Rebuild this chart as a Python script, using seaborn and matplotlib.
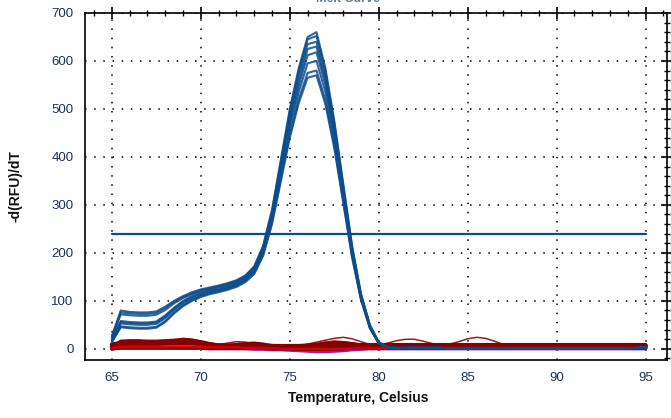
import pandas as pd
import matplotlib
matplotlib.use("Agg")
import matplotlib.pyplot as plt
from matplotlib.ticker import MultipleLocator
import seaborn as sns

# Temperature steps of the melt (0.5 C)
temps = [65 + 0.5 * i for i in range(61)]

# Positive wells (65.0 .. 81.0), tail shared for 81.5 .. 95.0
blue_tail = [2, 2, 2, 2, 2, 1, 1, 1, 1, 1, 1, 1, 1, 1, 1, 1, 1, 1, 1, 1,
             1, 1, 1, 1, 1, 1, 2, 3]
pos_1 = [27, 80, 77, 76, 76, 78, 88, 100, 110, 118, 124, 128, 132, 137, 143, 153, 172, 215, 290, 395,
         500, 585, 650, 660, 585, 475, 345, 215, 115, 50, 14, 4, 2]
pos_2 = [25, 76, 74, 73, 73, 75, 85, 98, 108, 116, 122, 126, 130, 135, 141, 151, 170, 212, 286, 390,
         494, 578, 645, 652, 578, 470, 340, 212, 113, 49, 13, 4, 2]
pos_3 = [23, 72, 70, 69, 69, 71, 81, 95, 106, 114, 120, 125, 129, 134, 140, 150, 168, 210, 283, 385,
         487, 570, 635, 640, 568, 462, 335, 208, 111, 48, 13, 4, 2]
pos_4 = [20, 58, 56, 55, 55, 57, 70, 86, 100, 110, 117, 122, 126, 131, 137, 147, 165, 206, 278, 378,
         478, 558, 625, 630, 560, 455, 330, 205, 110, 47, 12, 3, 2]
pos_5 = [19, 56, 54, 53, 53, 55, 67, 84, 98, 108, 115, 120, 124, 129, 135, 145, 163, 203, 274, 372,
         470, 548, 612, 618, 550, 448, 325, 202, 108, 46, 12, 3, 2]
pos_6 = [17, 53, 51, 50, 50, 52, 64, 81, 95, 105, 112, 118, 122, 127, 133, 143, 160, 200, 270, 365,
         460, 535, 595, 600, 535, 437, 318, 198, 106, 45, 12, 3, 1]
pos_7 = [15, 47, 45, 44, 44, 46, 58, 76, 91, 102, 110, 116, 120, 125, 131, 141, 158, 196, 264, 355,
         447, 520, 575, 580, 518, 425, 310, 194, 104, 44, 11, 3, 1]
pos_8 = [14, 45, 43, 42, 42, 44, 56, 74, 89, 100, 108, 114, 118, 123, 129, 139, 156, 194, 260, 350,
         440, 512, 565, 570, 510, 418, 305, 190, 102, 43, 11, 3, 1]

# Negative wells with small bumps (thin lines), 65.0 .. 95.0
neg_1 = [12, 14, 14, 14, 13, 14, 16, 19, 22, 20, 16, 12, 9, 8, 8, 7, 6, 5, 5, 4,
         4, 6, 10, 14, 18, 22, 24, 21, 15, 9, 5, 4, 3, 3, 3, 3, 3, 3, 3, 3,
         3, 3, 3, 3, 3, 3, 3, 3, 3, 3, 3, 3, 3, 3, 3, 3, 3, 3, 3, 3, 3]
neg_2 = [8, 10, 10, 10, 10, 10, 11, 12, 13, 12, 10, 8, 9, 12, 15, 14, 10, 7, 5, 4,
         4, 5, 7, 10, 14, 16, 14, 12, 10, 9, 8, 12, 17, 20, 20, 16, 11, 8, 10, 15,
         21, 24, 22, 16, 9, 5, 4, 4, 4, 4, 4, 4, 4, 4, 4, 4, 4, 4, 4, 4, 4]
neg_3 = [5, 8, 8, 8, 8, 8, 9, 11, 14, 15, 13, 10, 8, 7, 7, 6, 5, 5, 4, 4,
         5, 6, 8, 11, 14, 16, 15, 12, 8, 5, 4, 3, 3, 3, 3, 3, 3, 3, 3, 3,
         3, 3, 3, 3, 3, 3, 3, 3, 3, 3, 3, 3, 3, 3, 3, 3, 3, 3, 3, 3, 3]
# Negative wells forming the flat band near zero
neg_4 = [3, 15, 16, 16, 15, 15, 16, 17, 18, 17, 14, 10, 7, 6, 6, 5, 4, 4, 3, 3,
         3, 3, 3, 3, 4, 5, 6, 6, 6, 6, 6, 6, 6, 6, 6, 6, 6, 6, 6, 6,
         6, 6, 6, 6, 6, 6, 6, 6, 6, 6, 6, 6, 6, 6, 6, 6, 6, 6, 6, 6, 6]
neg_5 = [1, 3, 3, 3, 3, 3, 3, 3, 3, 3, 3, 2, 2, 2, 2, 2, 2, 2, 1, 1,
         1, 0, 0, 0, 0, 1, 1, 2, 2, 2, 2, 2, 2, 2, 2, 2, 2, 2, 2, 2,
         2, 2, 2, 2, 2, 2, 2, 2, 2, 2, 2, 2, 2, 2, 2, 2, 2, 2, 2, 2, 2]
neg_6 = [6, 11, 12, 12, 12, 12, 13, 14, 15, 14, 12, 9, 7, 7, 8, 10, 11, 9, 6, 5,
         5, 5, 6, 8, 10, 12, 12, 10, 7, 5, 5, 5, 5, 5, 5, 5, 5, 5, 5, 5,
         5, 5, 5, 5, 5, 5, 5, 5, 5, 5, 5, 5, 5, 5, 5, 5, 5, 5, 5, 5, 5]
neg_7 = [9, 12, 12, 12, 12, 12, 12, 12, 12, 12, 10, 8, 6, 6, 6, 6, 6, 6, 6, 6,
         6, 6, 7, 8, 8, 8, 8, 8, 8, 8, 8, 8, 8, 8, 8, 8, 8, 8, 8, 8,
         8, 8, 8, 8, 8, 8, 8, 8, 8, 8, 8, 8, 8, 8, 8, 8, 8, 8, 8, 8, 8]
neg_purple = [0, 1, 1, 1, 1, 1, 1, 1, 1, 1, 1, 0, 0, 0, 0, 0, -1, -1, -2, -2,
              -3, -4, -5, -6, -6, -5, -4, -2, -1, 0, 0, 0, 0, 0, 0, 0, 0, 0, 0, 0,
              0, 0, 0, 0, 0, 0, 0, 0, 0, 0, 0, 0, 0, 0, 0, 0, 0, 0, 0, 0, 0]
neg_red = [2, 4, 4, 4, 4, 4, 4, 4, 4, 4, 4, 3, 3, 3, 3, 2, 2, 1, 1, 0,
           0, 0, 0, 0, 0, 0, 0, 1, 1, 1, 1, 1, 1, 1, 1, 1, 1, 1, 1, 1,
           1, 1, 1, 1, 1, 1, 1, 1, 1, 1, 1, 1, 1, 1, 1, 1, 1, 1, 1, 1, 1]

threshold = 240

BLUE = "#0d4c8c"
DARK_RED = "#850000"

positives = {"pos_1": pos_1, "pos_2": pos_2, "pos_3": pos_3, "pos_4": pos_4,
             "pos_5": pos_5, "pos_6": pos_6, "pos_7": pos_7, "pos_8": pos_8}
bumps = {"neg_1": neg_1, "neg_2": neg_2, "neg_3": neg_3}
band = {"neg_4": neg_4, "neg_5": neg_5, "neg_6": neg_6, "neg_7": neg_7}


def to_long(wells, tail=None):
    rows = []
    for name, vals in wells.items():
        full = vals + tail if tail else vals
        for t, v in zip(temps, full):
            rows.append((name, t, v))
    return pd.DataFrame(rows, columns=["well", "temp", "value"])


df_pos = to_long(positives, blue_tail)
df_bump = to_long(bumps)
df_band = to_long(band)

sns.set_style("white")
plt.rcParams["font.family"] = ["Liberation Sans", "DejaVu Sans"]

fig = plt.figure(figsize=(6.71, 4.18), dpi=100)
ax = fig.add_axes([0.127, 0.139, 0.867, 0.83])

# Negative wells drawn first, positives on top
sns.lineplot(data=df_bump, x="temp", y="value", hue="well",
             palette=["#9a1c1c"] * len(bumps), linewidth=1.1,
             estimator=None, legend=False, ax=ax)
sns.lineplot(x=temps, y=neg_purple, color="#9a1aa0", linewidth=2.2, ax=ax)
sns.lineplot(data=df_band, x="temp", y="value", hue="well",
             palette=[DARK_RED] * len(band), linewidth=3.0,
             estimator=None, legend=False, ax=ax)
sns.lineplot(x=temps, y=neg_red, color="#d80000", linewidth=1.6, ax=ax)
sns.lineplot(data=df_pos, x="temp", y="value", hue="well",
             palette=[BLUE] * len(positives), linewidth=1.5, alpha=0.85,
             estimator=None, legend=False, ax=ax)

# Threshold line
ax.plot([65, 95], [threshold, threshold], color=BLUE, linewidth=1.6)

ax.set_xlim(63.5, 96.2)
ax.set_ylim(-23, 700)
ax.xaxis.set_major_locator(MultipleLocator(5))
ax.xaxis.set_minor_locator(MultipleLocator(1))
ax.yaxis.set_major_locator(MultipleLocator(100))
ax.yaxis.set_minor_locator(MultipleLocator(20))
ax.set_xticks([65, 70, 75, 80, 85, 90, 95])

ax.grid(True, which="major", color="black", linestyle=(0, (1, 5)), linewidth=1.1)

for side in ["left", "bottom", "top", "right"]:
    ax.spines[side].set_visible(True)
    ax.spines[side].set_color("black")
    ax.spines[side].set_linewidth(1.2)

ax.tick_params(which="major", direction="inout", length=9, width=1.2, color="black",
               top=True, right=True, labelsize=9.5, labelcolor="#1d3157", pad=4)
ax.tick_params(which="minor", direction="inout", length=5, width=1.0, color="black",
               top=True, right=True)

ax.set_xlabel("Temperature, Celsius", fontsize=10, fontweight="bold", color="#111111")
ax.set_ylabel("-d(RFU)/dT", fontsize=10, fontweight="bold", color="#111111")
ax.xaxis.set_label_coords(0.469, -0.09)
ax.yaxis.set_label_coords(-0.108, 0.5)

# Chart title sits at the very top edge, mostly cropped as in the source
fig.text(0.519, 0.996, "Melt Curve", ha="center", va="baseline",
         fontsize=9, fontweight="bold", color="#6b7a90")

fig.savefig("out.png", dpi=100)
